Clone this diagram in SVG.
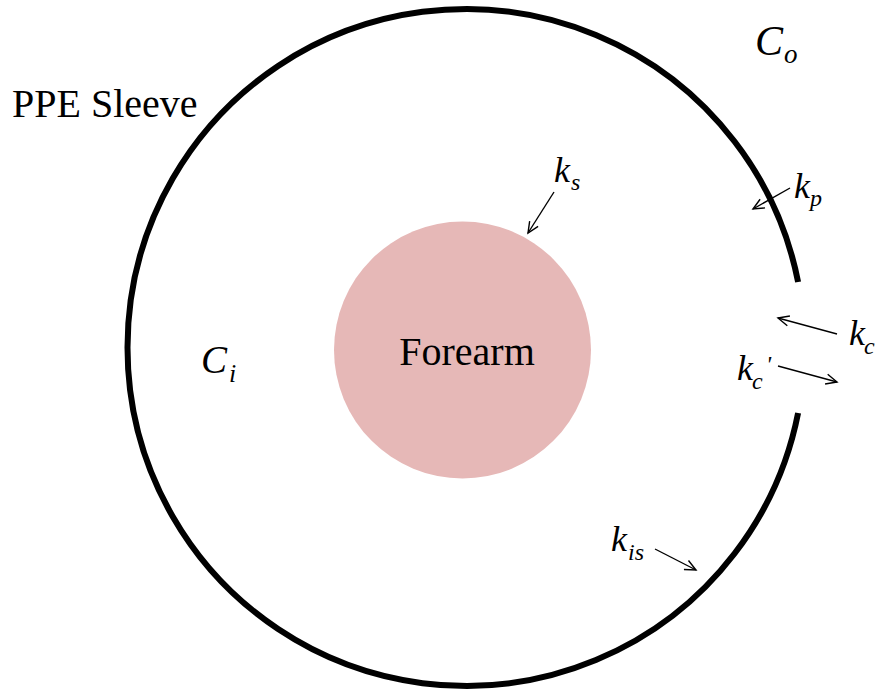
<svg xmlns="http://www.w3.org/2000/svg" width="876" height="694" viewBox="0 0 876 694">
<defs>
<marker id="ah" markerUnits="userSpaceOnUse" markerWidth="14" markerHeight="12" viewBox="0 0 14 12" refX="12" refY="6" orient="auto">
<path d="M1,1 L12,6 L1,11" fill="none" stroke="#000" stroke-width="1.4"/>
</marker>
<style>
text{font-family:"Liberation Serif",Tinos,"Times New Roman",Times,"Nimbus Roman","DejaVu Serif",serif;fill:#000}
.m{font-style:italic}
.arr{stroke:#000;stroke-width:1.4;fill:none;marker-end:url(#ah)}
</style>
</defs>
<rect width="876" height="694" fill="#fff"/>
<g id="sleeve">
<path d="M798.1,282 A338.5,338.5 0 1 0 798.1,413" fill="none" stroke="#000" stroke-width="6"/>
<text x="12" y="117" font-size="40">PPE Sleeve</text>
</g>
<g id="forearm">
<circle cx="462.5" cy="350" r="128.5" fill="#E6B8B7"/>
<text x="467" y="365" font-size="40" text-anchor="middle">Forearm</text>
</g>
<g id="Co">
<text class="m" x="755" y="55" font-size="42">C</text>
<text class="m" x="784" y="63" font-size="27">o</text>
</g>
<g id="Ci">
<text class="m" x="201" y="373" font-size="39">C</text>
<text class="m" x="229" y="382" font-size="26">i</text>
</g>
<g id="ks">
<text class="m" x="554" y="182" font-size="36">k</text>
<text class="m" x="571" y="190" font-size="24">s</text>
</g>
<g id="kp">
<text class="m" x="794" y="198" font-size="36">k</text>
<text class="m" x="810" y="206" font-size="24">p</text>
</g>
<g id="kc">
<text class="m" x="849" y="345" font-size="36">k</text>
<text class="m" x="864" y="354" font-size="24">c</text>
</g>
<g id="kc2">
<text class="m" x="737" y="380" font-size="36">k</text>
<text class="m" x="752" y="389" font-size="24">c</text>
<text class="m" x="766" y="372" font-size="24">'</text>
</g>
<g id="kis">
<text class="m" x="611" y="551" font-size="36">k</text>
<text class="m" x="628" y="560" font-size="24">is</text>
</g>
<g id="connectors">
<line class="arr" x1="554" y1="192" x2="528" y2="233"/>
<line class="arr" x1="790" y1="188" x2="753" y2="209"/>
<line class="arr" x1="837" y1="334" x2="778" y2="318"/>
<line class="arr" x1="778" y1="366" x2="837" y2="382"/>
<line class="arr" x1="655" y1="549" x2="696" y2="570"/>
</g>
</svg>
